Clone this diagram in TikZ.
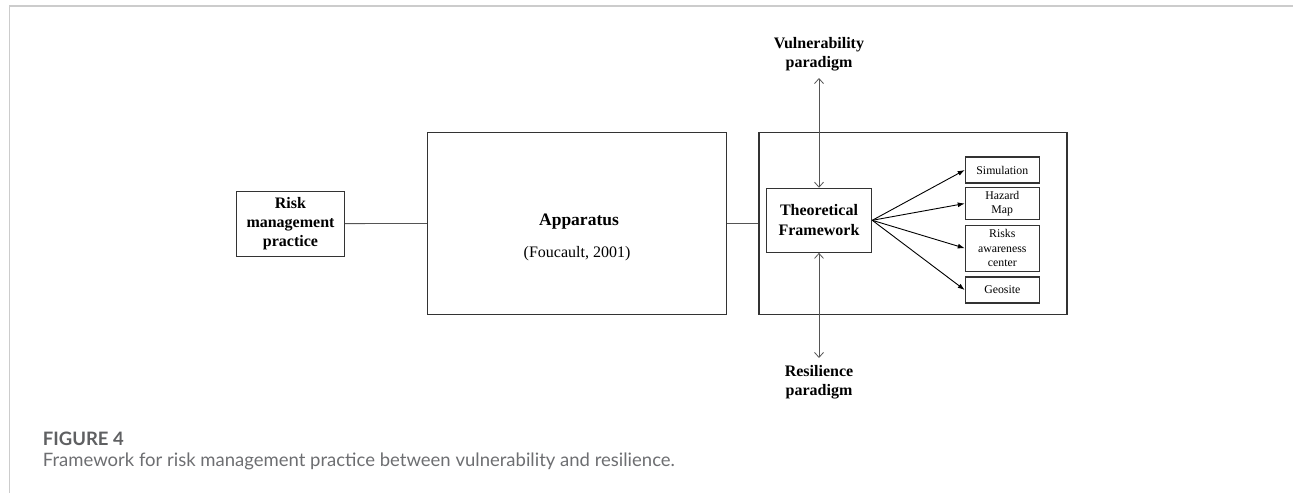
\documentclass[tikz,border=0pt]{standalone}
\usepackage{fontspec}
\setmainfont{Liberation Serif}
\newfontfamily\capfont{Lato}
\usepackage{tikz}
\usetikzlibrary{arrows.meta,positioning}

\definecolor{capgray}{HTML}{6D6E71}
\definecolor{figgray}{HTML}{5F6062}
\definecolor{linkgray}{HTML}{555555}
\definecolor{framegray}{HTML}{CCCCCC}

\tikzset{
  blk/.style={draw=black!80, line width=1.1pt, inner sep=0pt, align=center},
  bigtxt/.style={font=\fontsize{16}{19}\selectfont\bfseries, align=center},
  smallbox/.style={blk, minimum width=74pt, font=\fontsize{11.8}{14.3}\selectfont},
  fan/.style={-{Latex[length=7pt,width=5pt]}, line width=0.9pt},
  pdm/.style={{Straight Barb[length=5pt,width=9pt]}-{Straight Barb[length=5pt,width=9pt]},
    draw=linkgray, line width=0.8pt},
  link/.style={draw=linkgray, line width=0.8pt},
}

\begin{document}
\begin{tikzpicture}[x=1pt,y=-1pt]
  \useasboundingbox (0,0) rectangle (1293,493);

  % page frame
  \draw[framegray, line width=2pt] (9,5.7) -- (1293,5.7);
  \draw[framegray, line width=1pt] (9,5) -- (9,493);

  % left part
  \node[blk, bigtxt, minimum width=107.6pt, minimum height=65.3pt] (risk) at (290.5,223.7)
    {Risk\\management\\practice};
  \node[blk, minimum width=298.7pt, minimum height=182pt] (app) at (576.7,223.3) {};
  \node[font=\fontsize{17.5}{20}\selectfont\bfseries] (apptitle) at (579,221.5) {Apparatus};
  \node[font=\fontsize{16}{19}\selectfont] (appcite) at (577,254) {(Foucault, 2001)};

  % right part
  \node[blk, minimum width=308pt, minimum height=182pt] (tools) at (913,223.3) {};
  \node[blk, font=\fontsize{16}{19.7}\selectfont\bfseries, minimum width=105.4pt,
    minimum height=64pt] (theo) at (819,220.3) {Theoretical\\Framework};

  \node[smallbox, minimum height=26pt] (sim) at (1002.3,170) {Simulation};
  \node[smallbox, minimum height=31.6pt] (haz) at (1002.3,203.5) {Hazard\\Map};
  \node[smallbox, minimum height=46.3pt] (raw) at (1002.3,248.2) {Risks\\awareness\\center};
  \node[smallbox, minimum height=26pt] (geo) at (1002.3,290) {Geosite};

  \draw[link] (risk) -- (app);
  \draw[link] (app.east |- tools.west) -- (tools.west);

  \foreach \t in {sim,haz,raw,geo}
    \draw[fan] (theo.east) -- (\t.west);

  % paradigms
  \node[bigtxt] (vul) at (819,54) {Vulnerability\\paradigm};
  \node[bigtxt] (res) at (819,382.5) {Resilience\\paradigm};
  \coordinate (vtip) at (819,78);
  \coordinate (rtip) at (819,358);
  \draw[pdm] (vtip) -- (theo.north);
  \draw[pdm] (theo.south) -- (rtip);

  % caption
  \node[anchor=base west, inner sep=0pt, text=figgray,
    font=\capfont\bfseries\fontsize{18.5}{22}\selectfont] (fig) at (42.7,445) {FIGURE 4};
  \node[anchor=base west, inner sep=0pt, text=capgray,
    font=\capfont\fontsize{18.5}{22}\selectfont] (cap) at (42.7,466.7)
    {Framework for risk management practice between vulnerability and resilience.};
\end{tikzpicture}
\end{document}
